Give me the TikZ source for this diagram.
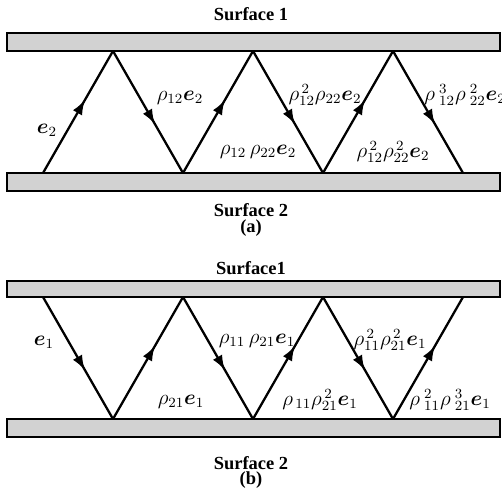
\documentclass[tikz,border=0pt]{standalone}
\usepackage{amsmath,bm}
\usepackage{fontspec}
\setmainfont{Liberation Serif}
\usetikzlibrary{arrows.meta, decorations.markings}

\tikzset{
  surface/.style={draw, line width=1.2pt, fill=gray!35},
  ray/.style={line width=1.3pt, postaction={decorate},
    decoration={markings,
      mark=at position 0.6 with {\arrow{Latex[length=8.5pt,width=6pt]}}}},
  title/.style={font=\bfseries\fontsize{10.5}{12}\selectfont},
  flux/.style={font=\fontsize{12}{14}\selectfont, inner sep=0pt}
}

\begin{document}
\begin{tikzpicture}[x=0.02cm, y=-0.02cm]
    \useasboundingbox (0,0) rectangle (502,495);

    % (a) emission from surface 2
    \node[title] (s1a) at (251,14) {Surface 1};
    \draw[surface] (7,33) rectangle (500,51);
    \draw[surface] (7,173) rectangle (500,191);
    \node[title] (s2a) at (251,210) {Surface 2};
    \node[title] (capa) at (251,228) {(a)};

    \foreach \i in {0,2,4,6} \coordinate (a\i) at ({43+70*\i},173);
    \foreach \i in {1,3,5} \coordinate (a\i) at ({43+70*\i},51);
    \foreach \i [count=\j] in {0,...,5} \draw[ray] (a\i) -- (a\j);

    \node[flux] (ea1) at (47,130) {$\bm{e}_2$};
    \node[flux] (ea2) at (180,98) {$\rho_{12}\bm{e}_2$};
    \node[flux] (ea3) at (258,152) {$\rho_{12}\,\rho_{22}\bm{e}_2$};
    \node[flux] (ea4) at (325,95) {$\rho_{12}^{\,2}\rho_{22}\bm{e}_2$};
    \node[flux] (ea5) at (393,152) {$\rho_{12}^{\,2}\rho_{22}^{\,2}\bm{e}_2$};
    \node[flux] (ea6) at (465,95) {$\rho_{\;12}^{\;3}\rho_{\;22}^{\;2}\bm{e}_2$};

    % (b) emission from surface 1
    \node[title] (s1b) at (251,268) {Surface1};
    \draw[surface] (7,281) rectangle (500,297);
    \draw[surface] (7,419) rectangle (500,437);
    \node[title] (s2b) at (251,463) {Surface 2};
    \node[title] (capb) at (251,480) {(b)};

    \foreach \i in {0,2,4,6} \coordinate (b\i) at ({43+70*\i},297);
    \foreach \i in {1,3,5} \coordinate (b\i) at ({43+70*\i},419);
    \foreach \i [count=\j] in {0,...,5} \draw[ray] (b\i) -- (b\j);

    \node[flux] (eb1) at (44,342) {$\bm{e}_1$};
    \node[flux] (eb2) at (181,402) {$\rho_{21}\bm{e}_1$};
    \node[flux] (eb3) at (257,341) {$\rho_{11}\,\rho_{21}\bm{e}_1$};
    \node[flux] (eb4) at (320,400) {$\rho_{\,11}\rho_{21}^{\,2}\bm{e}_1$};
    \node[flux] (eb5) at (390,340) {$\rho_{11}^{\,2}\rho_{21}^{\,2}\bm{e}_1$};
    \node[flux] (eb6) at (450,400) {$\rho_{\;11}^{\;2}\rho_{\;21}^{\;3}\bm{e}_1$};
\end{tikzpicture}
\end{document}
